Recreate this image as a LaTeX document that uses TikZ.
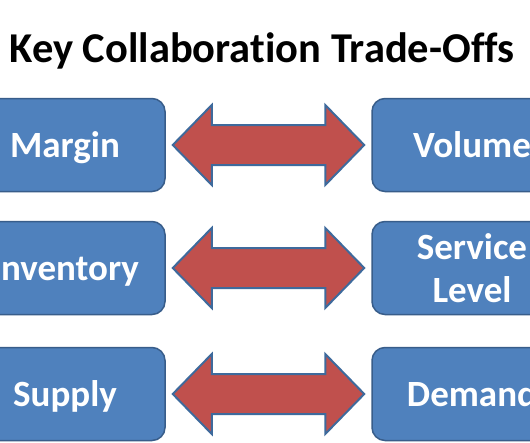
\documentclass[tikz,border=0pt]{standalone}
\usepackage{fontspec}
\setmainfont{Carlito}[Ligatures=NoCommon]
\usetikzlibrary{calc}
\definecolor{boxfill}{HTML}{4F81BD}
\definecolor{boxline}{HTML}{385D8A}
\definecolor{arrfill}{HTML}{C0504D}
\definecolor{arrline}{HTML}{3E6A9C}
\tikzset{
  card/.style={draw=boxline, line width=1.5pt, fill=boxfill, rounded corners=13pt,
    minimum width=200pt, minimum height=93pt, text=white, align=center,
    font=\fontsize{37}{43}\selectfont\bfseries, inner sep=0pt, text depth=0pt},
  tradearrow/.style={draw=arrline, line width=2pt, fill=arrfill, line join=miter},
  heading/.style={font=\fontsize{42.5}{48}\selectfont\bfseries, text=black, anchor=base, inner sep=0pt}
}
\begin{document}
\begin{tikzpicture}[x=1pt,y=-1pt]
\useasboundingbox (0,0) rectangle (530,442);
\clip (0,0) rectangle (530,442);
\fill[white] (0,0) rectangle (530,442);
\node[heading] (title) at (262,62) {Key Collaboration Trade-Offs};
\foreach \r/\y/\lt/\rt in {a/145/Margin/Volume, b/268/Inventory/{Service\\Level}, c/394/Supply/Demand}{
  \node[card] (\r L) at (65,\y) {\lt};
  \node[card] (\r R) at (472,\y) {\rt};
  \coordinate (\r p) at ($(\r L.east)+(7,0)$);
  \coordinate (\r q) at ($(\r R.west)+(-7,0)$);
  \draw[tradearrow] (\r p) -- ($(\r p)+(39,-40)$) -- ($(\r p)+(39,-20)$)
    -- ($(\r q)+(-39,-20)$) -- ($(\r q)+(-39,-40)$) -- (\r q)
    -- ($(\r q)+(-39,40)$) -- ($(\r q)+(-39,20)$)
    -- ($(\r p)+(39,20)$) -- ($(\r p)+(39,40)$) -- cycle;
}
\end{tikzpicture}
\end{document}
